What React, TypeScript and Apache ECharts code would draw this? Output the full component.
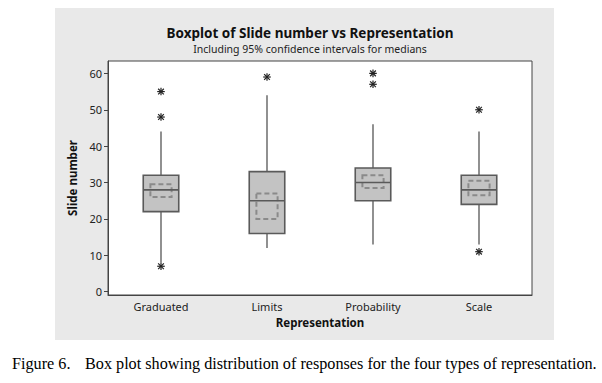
import React, { useEffect, useRef } from "react";
import * as echarts from "echarts";

const categories = ["Graduated", "Limits", "Probability", "Scale"];
const whiskerLow = [8, 12, 13, 13];
const q1 = [22, 16, 25, 24];
const median = [28, 25, 30, 28];
const q3 = [32, 33, 34, 32];
const whiskerHigh = [44, 54, 46, 44];
const ciLow = [26, 20, 28.5, 26.5];
const ciHigh = [29.5, 27, 32, 30.5];
const outliers: [number, number][] = [
  [0, 55], [0, 48], [0, 7],
  [1, 59],
  [2, 60], [2, 57],
  [3, 50], [3, 11],
];
const yTicks = [0, 10, 20, 30, 40, 50, 60];

const FONT = "'Noto Sans', sans-serif";
const CAPTION_FONT = "16.2px 'Liberation Serif', serif";

export default function App() {
  const ref = useRef<HTMLDivElement>(null);
  useEffect(() => {
    document.body.style.margin = "0";
    const chart = echarts.init(ref.current!, null, { renderer: "svg" });
    const boxData = categories.map((_, i) => [i, whiskerLow[i], q1[i], median[i], q3[i], whiskerHigh[i], ciLow[i], ciHigh[i]]);
    chart.setOption({
      animation: false,
      backgroundColor: "#ffffff",
      graphic: [
        { type: "rect", z: -10, shape: { x: 55, y: 8, width: 499, height: 332 }, style: { fill: "#e9e9e9" }, silent: true },
        { type: "text", left: 12, top: 356, style: { text: "Figure 6.", font: CAPTION_FONT, fill: "#000" } },
        { type: "text", left: 85, top: 356, style: { text: "Box plot showing distribution of responses for the four types of representation.", font: CAPTION_FONT, fill: "#000" } },
      ],
      title: {
        text: "Boxplot of Slide number vs Representation",
        subtext: "Including 95% confidence intervals for medians",
        left: 305,
        textAlign: "center",
        top: 21,
        itemGap: 3,
        textStyle: { fontFamily: FONT, fontWeight: "bold", fontSize: 13.5, color: "#111" },
        subtextStyle: { fontFamily: FONT, fontSize: 10.5, color: "#222" },
      },
      grid: {
        left: 108, right: 70, top: 61, bottom: 88,
        show: true, backgroundColor: "#ffffff", borderColor: "#444", borderWidth: 1,
      },
      xAxis: {
        type: "category",
        data: categories,
        boundaryGap: true,
        name: "Representation",
        nameLocation: "middle",
        nameGap: 21,
        nameTextStyle: { fontFamily: FONT, fontWeight: "bold", fontSize: 11.5, color: "#111" },
        axisLine: { show: true, onZero: false, lineStyle: { color: "#444" } },
        axisTick: { alignWithLabel: true, length: 4, lineStyle: { color: "#444" } },
        axisLabel: { fontFamily: FONT, fontSize: 11, color: "#222", margin: 6 },
        splitLine: { show: false },
      },
      yAxis: {
        type: "value",
        min: -0.9,
        max: 63.4,
        name: "Slide number",
        nameLocation: "middle",
        nameGap: 30,
        nameTextStyle: { fontFamily: FONT, fontWeight: "bold", fontSize: 11.5, color: "#111" },
        axisLine: { show: true, lineStyle: { color: "#444" } },
        axisTick: { show: true, length: 4, customValues: yTicks, lineStyle: { color: "#444" } },
        axisLabel: { fontFamily: FONT, fontSize: 11, color: "#222", margin: 6, customValues: yTicks },
        splitLine: { show: false },
      },
      series: [
        {
          type: "custom",
          data: boxData,
          renderItem: (params: any, api: any) => {
            const idx = api.value(0);
            const x = api.coord([idx, 0])[0];
            const band = api.size([1, 0])[0];
            const bw = band * 0.335;
            const cw = band * 0.2;
            const y = (v: number) => api.coord([idx, v])[1];
            const wl = y(api.value(1)), b1 = y(api.value(2)), md = y(api.value(3)), b3 = y(api.value(4)), wh = y(api.value(5));
            const cl = y(api.value(6)), ch = y(api.value(7));
            const lineStyle = { stroke: "#555", lineWidth: 1.3 };
            return {
              type: "group",
              children: [
                { type: "line", shape: { x1: x, y1: wl, x2: x, y2: b1 }, style: lineStyle },
                { type: "line", shape: { x1: x, y1: b3, x2: x, y2: wh }, style: lineStyle },
                { type: "rect", shape: { x: x - bw / 2, y: b3, width: bw, height: b1 - b3 }, style: { fill: "#c3c3c3", stroke: "#5a5a5a", lineWidth: 1.6 } },
                { type: "rect", shape: { x: x - cw / 2, y: ch, width: cw, height: cl - ch }, style: { fill: "none", stroke: "#8a8a8a", lineWidth: 2, lineDash: [5, 3] } },
                { type: "line", shape: { x1: x - bw / 2, y1: md, x2: x + bw / 2, y2: md }, style: { stroke: "#5a5a5a", lineWidth: 1.6 } },
              ],
            };
          },
          z: 2,
        },
        {
          type: "custom",
          data: outliers,
          renderItem: (params: any, api: any) => {
            const p = api.coord([api.value(0), api.value(1)]);
            const r = 3.8;
            const d = r * 0.75;
            const st = { stroke: "#222", lineWidth: 1.2 };
            return {
              type: "group",
              children: [
                { type: "line", shape: { x1: p[0], y1: p[1] - r, x2: p[0], y2: p[1] + r }, style: st },
                { type: "line", shape: { x1: p[0] - r, y1: p[1], x2: p[0] + r, y2: p[1] }, style: st },
                { type: "line", shape: { x1: p[0] - d, y1: p[1] - d, x2: p[0] + d, y2: p[1] + d }, style: st },
                { type: "line", shape: { x1: p[0] - d, y1: p[1] + d, x2: p[0] + d, y2: p[1] - d }, style: st },
              ],
            };
          },
          z: 3,
        },
      ],
    });
    return () => chart.dispose();
  }, []);
  return <div ref={ref} style={{ width: 602, height: 383 }} />;
}
